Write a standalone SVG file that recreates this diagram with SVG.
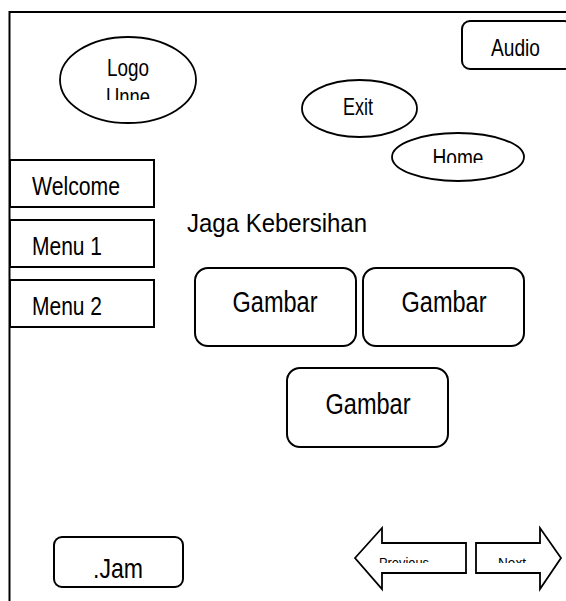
<svg xmlns="http://www.w3.org/2000/svg" width="566" height="601" viewBox="0 0 566 601">
<style>
.s{fill:#fff;stroke:#000;stroke-width:2}
.e{fill:#fff;stroke:#000;stroke-width:1.8}
.t{font-family:"Liberation Sans Narrow","Arial Narrow","Liberation Sans",Arial,sans-serif;fill:#000;text-anchor:middle}
.l{font-family:"Liberation Sans Narrow","Arial Narrow","Liberation Sans",Arial,sans-serif;fill:#000}
</style>
<defs>
<clipPath id="cLogo"><rect x="60" y="40" width="140" height="60"/></clipPath>
<clipPath id="cHome"><rect x="390" y="135" width="136" height="28"/></clipPath>
<clipPath id="cPrev"><rect x="360" y="545" width="110" height="18"/></clipPath>
<clipPath id="cNext"><rect x="478" y="545" width="56" height="18"/></clipPath>
</defs>
<rect width="566" height="601" fill="#fff"/>
<g id="frame">
<path d="M9.5 601 V12 H566" fill="none" stroke="#000" stroke-width="2"/>
</g>
<g id="connectors"/>
<g id="logo">
<ellipse class="e" cx="128" cy="80" rx="68" ry="43"/>
<text class="t" x="128" y="76" font-size="24" textLength="42" lengthAdjust="spacingAndGlyphs">Logo</text>
<text class="t" x="128" y="105" font-size="24" textLength="44" lengthAdjust="spacingAndGlyphs" clip-path="url(#cLogo)">Unne</text>
</g>
<g id="audio">
<rect class="s" x="462" y="21" width="110" height="48" rx="8"/>
<text class="t" x="515.5" y="56" font-size="24" textLength="49" lengthAdjust="spacingAndGlyphs">Audio</text>
</g>
<g id="exit">
<ellipse class="e" cx="359.5" cy="108.5" rx="57.5" ry="28.5"/>
<text class="t" x="358" y="115" font-size="24" textLength="30" lengthAdjust="spacingAndGlyphs">Exit</text>
</g>
<g id="home">
<ellipse class="e" cx="458" cy="157" rx="66" ry="24"/>
<text class="t" x="458" y="166" font-size="23" textLength="51" lengthAdjust="spacingAndGlyphs" clip-path="url(#cHome)">Home</text>
</g>
<g id="welcome">
<rect class="s" x="10" y="160" width="144" height="47"/>
<text class="l" x="32" y="195" font-size="25" textLength="88" lengthAdjust="spacingAndGlyphs">Welcome</text>
</g>
<g id="menu1">
<rect class="s" x="10" y="220" width="144" height="47"/>
<text class="l" x="32" y="255" font-size="25" textLength="70" lengthAdjust="spacingAndGlyphs">Menu 1</text>
</g>
<g id="menu2">
<rect class="s" x="10" y="280" width="144" height="47"/>
<text class="l" x="32" y="315" font-size="25" textLength="70" lengthAdjust="spacingAndGlyphs">Menu 2</text>
</g>
<g id="title">
<text class="l" x="187" y="232" font-size="26" textLength="180" lengthAdjust="spacingAndGlyphs">Jaga Kebersihan</text>
</g>
<g id="gambar1">
<rect class="s" x="195" y="268" width="161" height="78" rx="13"/>
<text class="t" x="275" y="312" font-size="29" textLength="85" lengthAdjust="spacingAndGlyphs">Gambar</text>
</g>
<g id="gambar2">
<rect class="s" x="363" y="268" width="161" height="78" rx="13"/>
<text class="t" x="444" y="312" font-size="29" textLength="85" lengthAdjust="spacingAndGlyphs">Gambar</text>
</g>
<g id="gambar3">
<rect class="s" x="287" y="368" width="161" height="79" rx="13"/>
<text class="t" x="368" y="414" font-size="29" textLength="85" lengthAdjust="spacingAndGlyphs">Gambar</text>
</g>
<g id="jam">
<rect class="s" x="54" y="537" width="129" height="50" rx="8"/>
<text class="t" x="118" y="578" font-size="28" textLength="50" lengthAdjust="spacingAndGlyphs">.Jam</text>
</g>
<g id="previous">
<path class="e" d="M355 558 L382 528 V543 H466 V573 H382 V589 Z"/>
<text class="t" x="404" y="568" font-size="14" textLength="50" lengthAdjust="spacingAndGlyphs" clip-path="url(#cPrev)">Previous</text>
</g>
<g id="next">
<path class="e" d="M476 543 H540 V528 L561 558 L540 589 V573 H476 Z"/>
<text class="t" x="512" y="568" font-size="14" textLength="28" lengthAdjust="spacingAndGlyphs" clip-path="url(#cNext)">Next</text>
</g>
</svg>
